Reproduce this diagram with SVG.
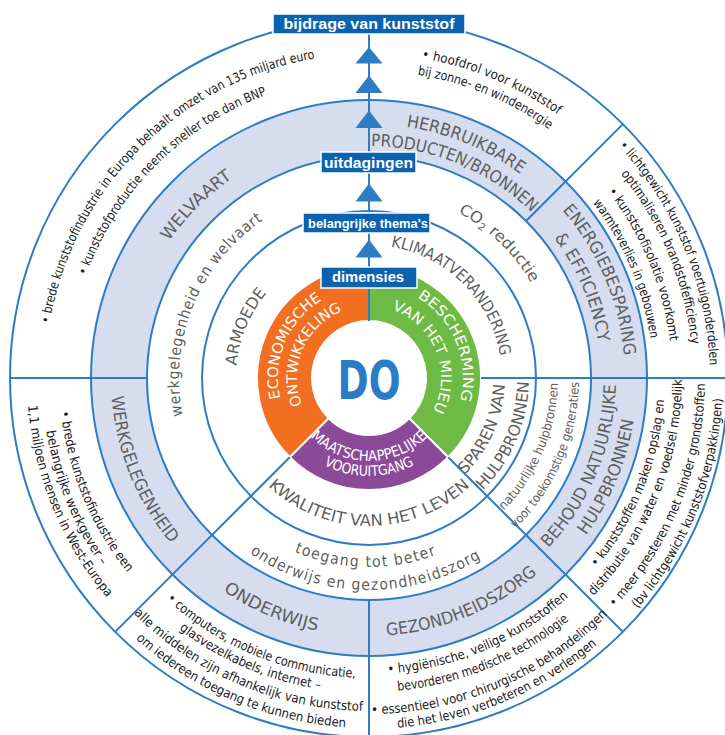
<svg xmlns="http://www.w3.org/2000/svg" xmlns:xlink="http://www.w3.org/1999/xlink" width="725" height="735" viewBox="0 0 725 735">
<style>
  .ring { stroke: #2d7cc4; stroke-width: 2; }
  .rad { stroke: #2d7cc4; stroke-width: 2; fill: none; }
  .seg { stroke: #ffffff; stroke-width: 2; }
  text { font-family: "Liberation Sans Narrow", "DejaVu Sans Condensed", "Liberation Sans", sans-serif; text-anchor: middle; }
  .o { font-size: 13px; fill: #1c1c1c; }
  .bd { font-size: 17px; fill: #5f5f60; }
  .in { font-size: 16px; fill: #5f5f60; }
  .sm { font-size: 12.5px; fill: #5f5f60; }
  .ls { font-size: 15.5px; fill: #5f5f60; }
  .wh { font-size: 14.5px; fill: #ffffff; }
  .lab rect { fill: #0b63b0; stroke: #ffffff; stroke-width: 1.5; }
  .lab text { font-family: "Liberation Sans", "DejaVu Sans", sans-serif; font-weight: bold; fill: #ffffff; }
  .tri { fill: #2d7cc4; }
</style>
<defs>
  <!-- arcs centred at the top, drawn clockwise (letters point outward) -->
  <path id="t324" d="M45 378A324 324 0 0 1 693 378"/>
  <path id="t301" d="M68 378A301 301 0 0 1 670 378"/>
  <path id="t307" d="M62 378A307 307 0 0 1 676 378"/>
  <path id="t341" d="M28 378A341 341 0 0 1 710 378"/>
  <path id="t303" d="M66 378A303 303 0 0 1 672 378"/>
  <path id="t284" d="M85 378A284 284 0 0 1 653 378"/>
  <path id="t242" d="M127 378A242 242 0 0 1 611 378"/>
  <path id="t254" d="M115 378A254 254 0 0 1 623 378"/>
  <path id="t232" d="M137 378A232 232 0 0 1 601 378"/>
  <path id="t256" d="M113 378A256 256 0 0 1 625 378"/>
  <path id="t133" d="M236 378A133 133 0 0 1 502 378"/>
  <path id="t190" d="M179 378A190 190 0 0 1 559 378"/>
  <path id="t188" d="M181 378A188 188 0 0 1 557 378"/>
  <path id="t91" d="M278 378A91 91 0 0 1 460 378"/>
  <path id="t72" d="M297 378A72 72 0 0 1 441 378"/>
  <path id="t94" d="M275 378A94 94 0 0 1 463 378"/>
  <!-- arcs centred at the bottom, drawn counter-clockwise (letters point inward) -->
  <path id="b310" d="M59 378A310 310 0 0 0 679 378"/>
  <path id="b327" d="M42 378A327 327 0 0 0 696 378"/>
  <path id="b342" d="M27 378A342 342 0 0 0 711 378"/>
  <path id="b300" d="M69 378A300 300 0 0 0 669 378"/>
  <path id="b315" d="M54 378A315 315 0 0 0 684 378"/>
  <path id="b333" d="M36 378A333 333 0 0 0 702 378"/>
  <path id="b350" d="M19 378A350 350 0 0 0 719 378"/>
  <path id="b296" d="M73 378A296 296 0 0 0 665 378"/>
  <path id="b314" d="M55 378A314 314 0 0 0 683 378"/>
  <path id="b336" d="M33 378A336 336 0 0 0 705 378"/>
  <path id="b351" d="M18 378A351 351 0 0 0 720 378"/>
  <path id="b313" d="M56 378A313 313 0 0 0 682 378"/>
  <path id="b354" d="M15 378A354 354 0 0 0 723 378"/>
  <path id="b247" d="M122 378A247 247 0 0 0 616 378"/>
  <path id="b268" d="M101 378A268 268 0 0 0 637 378"/>
  <path id="b258" d="M111 378A258 258 0 0 0 627 378"/>
  <path id="b136" d="M233 378A136 136 0 0 0 505 378"/>
  <path id="b160" d="M209 378A160 160 0 0 0 529 378"/>
  <path id="b189" d="M180 378A189 189 0 0 0 558 378"/>
  <path id="b210" d="M159 378A210 210 0 0 0 579 378"/>
  <path id="b212" d="M157 378A212 212 0 0 0 581 378"/>
  <path id="b148" d="M221 378A148 148 0 0 0 517 378"/>
  <path id="b83" d="M286 378A83 83 0 0 0 452 378"/>
  <path id="b98" d="M271 378A98 98 0 0 0 467 378"/>
</defs>

<!-- rings -->
<g id="rings">
  <circle class="ring" cx="369" cy="378" r="359" fill="#ffffff"/>
  <circle class="ring" cx="369" cy="378" r="278" fill="#d5ddef"/>
  <circle class="ring" cx="369" cy="378" r="222" fill="#ffffff"/>
  <circle class="ring" cx="369" cy="378" r="167" fill="none"/>
</g>

<!-- three dimensions -->
<g id="dim-economie"><path class="seg" fill="#f26f22" d="M369 266A112 112 0 0 0 289.8 457.2L328.7 418.3A57 57 0 0 1 369 321Z"/></g>
<g id="dim-milieu"><path class="seg" fill="#6dba45" d="M369 266A112 112 0 0 1 448.2 457.2L409.3 418.3A57 57 0 0 0 369 321Z"/></g>
<g id="dim-maatschappij"><path class="seg" fill="#8b4a98" d="M289.8 457.2A112 112 0 0 0 448.2 457.2L409.3 418.3A57 57 0 0 1 328.7 418.3Z"/></g>
<g id="centre">
  <circle cx="369" cy="378" r="56" fill="#ffffff"/>
  <text x="369" y="399" font-family="Liberation Sans, sans-serif" font-weight="bold" font-size="53" fill="#2b7cc6" textLength="63" lengthAdjust="spacingAndGlyphs">DO</text>
</g>

<!-- connectors: radial dividers -->
<g id="connectors">
  <line class="rad" x1="481" y1="378" x2="728" y2="378"/>
  <line class="rad" x1="10" y1="378" x2="147" y2="378"/>
  <line class="rad" x1="526" y1="221" x2="622.9" y2="124.1"/>
  <line class="rad" x1="289.8" y1="457.2" x2="115.1" y2="631.9"/>
  <line class="rad" x1="448.2" y1="457.2" x2="622.9" y2="631.9"/>
  <line class="rad" x1="369" y1="600" x2="369" y2="737"/>
  <line class="rad" x1="369" y1="30" x2="369" y2="321"/>
  <polygon class="tri" points="369,47 355.5,63.5 382.5,63.5"/>
  <polygon class="tri" points="369,75.5 355.5,93 382.5,93"/>
  <polygon class="tri" points="369,110.5 355.5,128 382.5,128"/>
  <polygon class="tri" points="369,183.5 355.5,201.5 382.5,201.5"/>
  <polygon class="tri" points="369,239.5 355.5,257.5 382.5,257.5"/>
</g>

<!-- dimension labels -->
<g id="lbl-economie">
  <text class="wh" transform="rotate(-67 369 378)"><textPath href="#t91" startOffset="50%" textLength="114" lengthAdjust="spacingAndGlyphs">ECONOMISCHE</textPath></text>
  <text class="wh" transform="rotate(-67 369 378)"><textPath href="#t72" startOffset="50%" textLength="113" lengthAdjust="spacingAndGlyphs">ONTWIKKELING</textPath></text>
</g>
<g id="lbl-milieu">
  <text class="wh" transform="rotate(67.5 369 378)"><textPath href="#t94" startOffset="50%" textLength="120" lengthAdjust="spacingAndGlyphs">BESCHERMING</textPath></text>
  <text class="wh" transform="rotate(68 369 378)"><textPath href="#t72" startOffset="50%" textLength="124" lengthAdjust="spacingAndGlyphs">VAN HET MILIEU</textPath></text>
</g>
<g id="lbl-maatschappij">
  <text class="wh" font-size="14"><textPath href="#b83" startOffset="50%" textLength="130" lengthAdjust="spacingAndGlyphs">MAATSCHAPPELIJKE</textPath></text>
  <text class="wh" font-size="14"><textPath href="#b98" startOffset="50%" textLength="94" lengthAdjust="spacingAndGlyphs">VOORUITGANG</textPath></text>
</g>

<!-- key themes -->
<g id="thema-economie">
  <text class="in" transform="rotate(-67.5 369 378)"><textPath href="#t133" startOffset="50%" textLength="80" lengthAdjust="spacingAndGlyphs">ARMOEDE</textPath></text>
  <text class="ls" transform="rotate(-67.5 369 378)"><textPath href="#t190" startOffset="50%" textLength="225" lengthAdjust="spacing" letter-spacing="1.5">werkgelegenheid en welvaart</textPath></text>
</g>
<g id="thema-klimaat">
  <text class="in" transform="rotate(45 369 378)"><textPath href="#t133" startOffset="50%" textLength="165" lengthAdjust="spacingAndGlyphs">KLIMAATVERANDERING</textPath></text>
  <text class="ls" transform="rotate(44 369 378)"><textPath href="#t188" startOffset="50%" textLength="103" lengthAdjust="spacingAndGlyphs">CO<tspan font-size="10" dy="3">2</tspan><tspan dy="-3"> reductie</tspan></textPath></text>
</g>
<g id="thema-hulpbronnen">
  <text class="in" transform="rotate(-66 369 378)"><textPath href="#b136" startOffset="50%" textLength="101" lengthAdjust="spacingAndGlyphs">SPAREN VAN</textPath></text>
  <text class="in" transform="rotate(-67 369 378)"><textPath href="#b160" startOffset="50%" textLength="121" lengthAdjust="spacingAndGlyphs">HULPBRONNEN</textPath></text>
  <text class="sm" transform="rotate(-67 369 378)"><textPath href="#b189" startOffset="50%" textLength="142" lengthAdjust="spacingAndGlyphs">natuurlijke hulpbronnen</textPath></text>
  <text class="sm" transform="rotate(-66.5 369 378)"><textPath href="#b210" startOffset="50%" textLength="164" lengthAdjust="spacingAndGlyphs">voor toekomstige generaties</textPath></text>
</g>
<g id="thema-kwaliteit">
  <text class="in"><textPath href="#b148" startOffset="50%" textLength="222" lengthAdjust="spacingAndGlyphs">KWALITEIT VAN HET LEVEN</textPath></text>
  <text class="ls" transform="rotate(1 369 378)"><textPath href="#b189" startOffset="50%" textLength="147" lengthAdjust="spacing" letter-spacing="1.5">toegang tot beter</textPath></text>
  <text class="ls" transform="rotate(1 369 378)"><textPath href="#b212" startOffset="50%" textLength="246" lengthAdjust="spacing" letter-spacing="1.5">onderwijs en gezondheidszorg</textPath></text>
</g>

<!-- challenges (shaded band) -->
<g id="uitdaging-welvaart">
  <text class="bd" transform="rotate(-45 369 378)"><textPath href="#t242" startOffset="50%" textLength="90" lengthAdjust="spacingAndGlyphs">WELVAART</textPath></text>
</g>
<g id="uitdaging-herbruikbaar">
  <text class="bd" transform="rotate(22.5 369 378)"><textPath href="#t254" startOffset="50%" textLength="125" lengthAdjust="spacingAndGlyphs">HERBRUIKBARE</textPath></text>
  <text class="bd" transform="rotate(22.5 369 378)"><textPath href="#t232" startOffset="50%" textLength="178" lengthAdjust="spacingAndGlyphs">PRODUCTEN/BRONNEN</textPath></text>
</g>
<g id="uitdaging-energie">
  <text class="bd" transform="rotate(67 369 378)"><textPath href="#t256" startOffset="50%" textLength="161" lengthAdjust="spacingAndGlyphs">ENERGIEBESPARING</textPath></text>
  <text class="bd" transform="rotate(67 369 378)"><textPath href="#t232" startOffset="50%" textLength="115" lengthAdjust="spacingAndGlyphs">&amp; EFFICIENCY</textPath></text>
</g>
<g id="uitdaging-behoud">
  <text class="bd" transform="rotate(-67.5 369 378)"><textPath href="#b247" startOffset="50%" textLength="181" lengthAdjust="spacingAndGlyphs">BEHOUD NATUURLIJKE</textPath></text>
  <text class="bd" transform="rotate(-67.5 369 378)"><textPath href="#b268" startOffset="50%" textLength="126" lengthAdjust="spacingAndGlyphs">HULPBRONNEN</textPath></text>
</g>
<g id="uitdaging-gezondheidszorg">
  <text class="bd" transform="rotate(-22.3 369 378)"><textPath href="#b258" startOffset="50%" textLength="166" lengthAdjust="spacingAndGlyphs">GEZONDHEIDSZORG</textPath></text>
</g>
<g id="uitdaging-onderwijs">
  <text class="bd" transform="rotate(23 369 378)"><textPath href="#b258" startOffset="50%" textLength="103" lengthAdjust="spacingAndGlyphs">ONDERWIJS</textPath></text>
</g>
<g id="uitdaging-werkgelegenheid">
  <text class="bd" transform="rotate(68 369 378)"><textPath href="#b258" startOffset="50%" textLength="161" lengthAdjust="spacingAndGlyphs">WERKGELEGENHEID</textPath></text>
</g>

<!-- contribution of plastics (outer ring) -->
<g id="bijdrage-welvaart">
  <text class="o" transform="rotate(-45 369 378)"><textPath href="#t324" startOffset="50%" textLength="400" lengthAdjust="spacingAndGlyphs">• brede kunststofindustrie in Europa behaalt omzet van 135 miljard euro</textPath></text>
  <text class="o" transform="rotate(-45 369 378)"><textPath href="#t301" startOffset="50%" textLength="264" lengthAdjust="spacingAndGlyphs">• kunststofproductie neemt sneller toe dan BNP</textPath></text>
</g>
<g id="bijdrage-herbruikbaar">
  <text class="o" transform="rotate(22.5 369 378)"><textPath href="#t324" startOffset="50%" textLength="149" lengthAdjust="spacingAndGlyphs">• hoofdrol voor kunststof</textPath></text>
  <text class="o" transform="rotate(22.5 369 378)"><textPath href="#t307" startOffset="50%" textLength="144" lengthAdjust="spacingAndGlyphs">bij zonne- en windenergie</textPath></text>
</g>
<g id="bijdrage-energie">
  <text class="o" transform="rotate(67.5 369 378)"><textPath href="#t341" startOffset="50%" textLength="243" lengthAdjust="spacingAndGlyphs">• lichtgewicht kunststof voertuigonderdelen</textPath></text>
  <text class="o" transform="rotate(67.5 369 378)"><textPath href="#t324" startOffset="50%" textLength="187" lengthAdjust="spacingAndGlyphs">optimaliseren brandstofefficiency</textPath></text>
  <text class="o" transform="rotate(67.5 369 378)"><textPath href="#t303" startOffset="50%" textLength="164" lengthAdjust="spacingAndGlyphs">• kunststofisolatie voorkomt</textPath></text>
  <text class="o" transform="rotate(67 369 378)"><textPath href="#t284" startOffset="50%" textLength="149" lengthAdjust="spacingAndGlyphs">warmteverlies in gebouwen</textPath></text>
</g>
<g id="bijdrage-behoud">
  <text class="o" transform="rotate(-68 369 378)"><textPath href="#b296" startOffset="50%" textLength="184" lengthAdjust="spacingAndGlyphs">• kunststoffen maken opslag en</textPath></text>
  <text class="o" transform="rotate(-67.8 369 378)"><textPath href="#b313" startOffset="50%" textLength="240" lengthAdjust="spacingAndGlyphs">distributie van water en voedsel mogelijk</textPath></text>
  <text class="o" transform="rotate(-68 369 378)"><textPath href="#b336" startOffset="50%" textLength="247" lengthAdjust="spacingAndGlyphs">• meer presteren met minder grondstoffen</textPath></text>
  <text class="o" transform="rotate(-68 369 378)"><textPath href="#b354" startOffset="50%" textLength="231" lengthAdjust="spacingAndGlyphs">(bv lichtgewicht kunststofverpakkingen)</textPath></text>
</g>
<g id="bijdrage-gezondheidszorg">
  <text class="o" transform="rotate(-23 369 378)"><textPath href="#b296" startOffset="50%" textLength="200" lengthAdjust="spacingAndGlyphs">• hygiënische, veilige kunststoffen</textPath></text>
  <text class="o" transform="rotate(-22.4 369 378)"><textPath href="#b314" startOffset="50%" textLength="188" lengthAdjust="spacingAndGlyphs">bevorderen medische technologie</textPath></text>
  <text class="o" transform="rotate(-22.8 369 378)"><textPath href="#b336" startOffset="50%" textLength="263" lengthAdjust="spacingAndGlyphs">• essentieel voor chirurgische behandelingen</textPath></text>
  <text class="o" transform="rotate(-22.6 369 378)"><textPath href="#b351" startOffset="50%" textLength="220" lengthAdjust="spacingAndGlyphs">die het leven verbeteren en verlengen</textPath></text>
</g>
<g id="bijdrage-onderwijs">
  <text class="o" transform="rotate(22.5 369 378)"><textPath href="#b300" startOffset="50%" textLength="209" lengthAdjust="spacingAndGlyphs">• computers, mobiele communicatie,</textPath></text>
  <text class="o" transform="rotate(23 369 378)"><textPath href="#b315" startOffset="50%" textLength="155" lengthAdjust="spacingAndGlyphs">glasvezelkabels, internet –</textPath></text>
  <text class="o" transform="rotate(23 369 378)"><textPath href="#b333" startOffset="50%" textLength="255" lengthAdjust="spacingAndGlyphs">alle middelen zijn afhankelijk van kunststof</textPath></text>
  <text class="o" transform="rotate(22.8 369 378)"><textPath href="#b350" startOffset="50%" textLength="232" lengthAdjust="spacingAndGlyphs">om iedereen toegang te kunnen bieden</textPath></text>
</g>
<g id="bijdrage-werkgelegenheid">
  <text class="o" transform="rotate(67.5 369 378)"><textPath href="#b310" startOffset="50%" textLength="177" lengthAdjust="spacingAndGlyphs">• brede kunststofindustrie een</textPath></text>
  <text class="o" transform="rotate(67.8 369 378)"><textPath href="#b327" startOffset="50%" textLength="147" lengthAdjust="spacingAndGlyphs">belangrijke werkgever –</textPath></text>
  <text class="o" transform="rotate(67.7 369 378)"><textPath href="#b342" startOffset="50%" textLength="211" lengthAdjust="spacingAndGlyphs">1,1 miljoen mensen in West-Europa</textPath></text>
</g>

<!-- level labels on the axis -->
<g id="lab-bijdrage" class="lab">
  <rect x="273" y="14" width="192" height="20"/>
  <text x="369" y="29" font-size="15" textLength="171" lengthAdjust="spacingAndGlyphs">bijdrage van kunststof</text>
</g>
<g id="lab-uitdagingen" class="lab">
  <rect x="321" y="152" width="95" height="21"/>
  <text x="368.5" y="167.5" font-size="14" textLength="89" lengthAdjust="spacingAndGlyphs">uitdagingen</text>
</g>
<g id="lab-themas" class="lab">
  <rect x="303" y="213" width="127" height="20"/>
  <text x="368" y="227.5" font-size="13.5" textLength="120" lengthAdjust="spacingAndGlyphs">belangrijke thema's</text>
</g>
<g id="lab-dimensies" class="lab">
  <rect x="321" y="267" width="96" height="21"/>
  <text x="368" y="282" font-size="14.5" textLength="72" lengthAdjust="spacingAndGlyphs">dimensies</text>
</g>
</svg>
